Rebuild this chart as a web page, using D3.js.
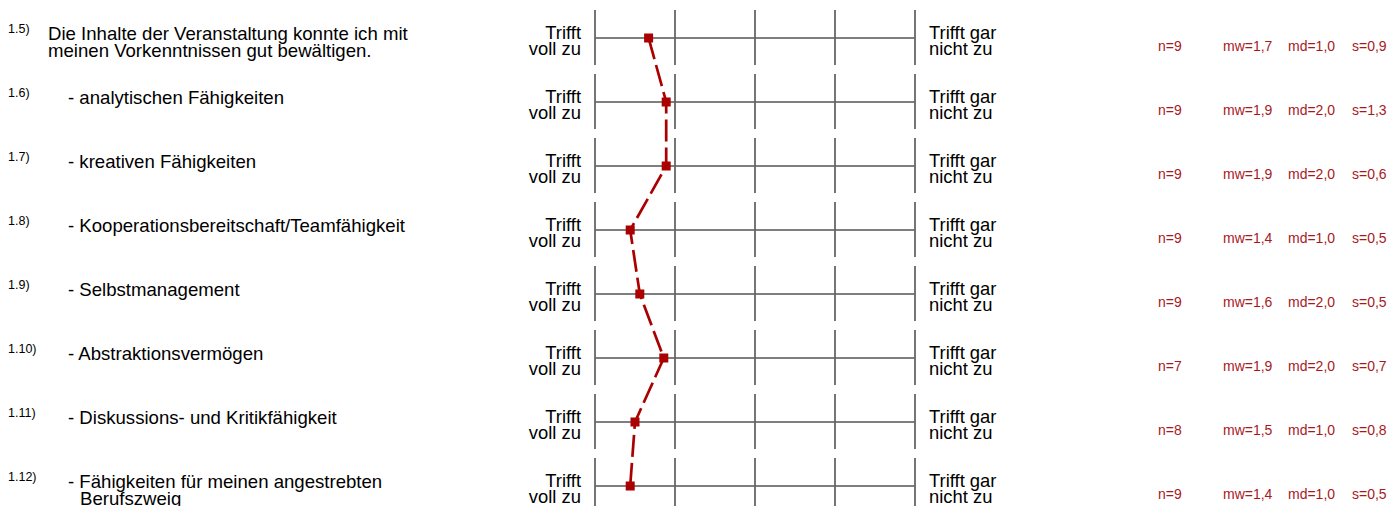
<!DOCTYPE html>
<html>
<head>
<meta charset="utf-8">
<script src="https://cdn.jsdelivr.net/npm/d3@7"></script>
<style>
  body { margin: 0; background: #fff; }
  svg text { font-family: "Liberation Sans", Arial, sans-serif; fill: #000; }
</style>
</head>
<body>
<svg id="chart" width="1394" height="506"></svg>
<script>
// question numbers and texts
var ids = ["1.5)", "1.6)", "1.7)", "1.8)", "1.9)", "1.10)", "1.11)", "1.12)"];
var labels = [
    ["Die Inhalte der Veranstaltung konnte ich mit", "meinen Vorkenntnissen gut bewältigen."],
    ["- analytischen Fähigkeiten"],
    ["- kreativen Fähigkeiten"],
    ["- Kooperationsbereitschaft/Teamfähigkeit"],
    ["- Selbstmanagement"],
    ["- Abstraktionsvermögen"],
    ["- Diskussions- und Kritikfähigkeit"],
    ["- Fähigkeiten für meinen angestrebten", "Berufszweig"]
];
// answers per question
var nValues = [9, 9, 9, 9, 9, 7, 8, 9];
var means = [1.67, 1.89, 1.89, 1.44, 1.56, 1.86, 1.5, 1.44];
var meanText = ["1,7", "1,9", "1,9", "1,4", "1,6", "1,9", "1,5", "1,4"];
var medians = ["1,0", "2,0", "2,0", "1,0", "2,0", "2,0", "1,0", "1,0"];
var stdDevs = ["0,9", "1,3", "0,6", "0,5", "0,5", "0,7", "0,8", "0,5"];
// scale poles
var leftPole = ["Trifft", "voll zu"];
var rightPole = ["Trifft gar", "nicht zu"];
var scaleSteps = [1, 2, 3, 4, 5];

var svg = d3.select('#chart');
var red = "#aa0000";
var statRed = "#a8191c";

var x = d3.scaleLinear().domain([1, 5]).range([595, 915]);
var y = d3.scaleLinear().domain([0, ids.length - 1]).range([38, 486]);

var rows = svg.selectAll('.row')
    .data(ids)
    .enter().append('g')
    .attr('class', 'row')
    .attr('transform', function(d, i) { return 'translate(0,' + y(i) + ')'; });

// question numbers
rows.append('text')
    .attr('x', 8)
    .attr('y', -5.5)
    .style('font-size', '12.5px')
    .text(function(d) { return d; });

// question texts
rows.each(function(d, i) {
    var g = d3.select(this);
    var dash = labels[i][0].charAt(0) == '-';
    var t = g.append('text').style('font-size', '18.6px');
    labels[i].forEach(function(line, j) {
        t.append('tspan')
            .attr('x', dash ? (j == 0 ? 68 : 80) : 48)
            .attr('y', 2 + j * 16.5)
            .text(line);
    });
});

// pole labels
rows.each(function() {
    var g = d3.select(this);
    var lt = g.append('text').style('font-size', '18.4px').attr('text-anchor', 'end');
    leftPole.forEach(function(line, j) {
        lt.append('tspan').attr('x', 581).attr('y', 0.5 + j * 16.8).text(line);
    });
    var rt = g.append('text').style('font-size', '18.4px');
    rightPole.forEach(function(line, j) {
        rt.append('tspan').attr('x', 929).attr('y', 0.5 + j * 16.8).text(line);
    });
});

// scale grid
rows.append('line')
    .attr('x1', x(1)).attr('x2', x(5))
    .attr('y1', 0).attr('y2', 0)
    .attr('stroke', '#555').attr('stroke-width', 1.3);

rows.selectAll('.tick')
    .data(scaleSteps)
    .enter().append('line')
    .attr('class', 'tick')
    .attr('x1', function(d) { return x(d); })
    .attr('x2', function(d) { return x(d); })
    .attr('y1', -28).attr('y2', 27)
    .attr('stroke', '#666').attr('stroke-width', 1.8);

// statistics
var statFont = '14px';
rows.append('text')
    .attr('x', 1158).attr('y', 13)
    .style('font-size', statFont).style('fill', statRed)
    .text(function(d, i) { return 'n=' + nValues[i]; });
rows.append('text')
    .attr('x', 1223).attr('y', 13)
    .style('font-size', statFont).style('fill', statRed)
    .text(function(d, i) { return 'mw=' + meanText[i]; });
rows.append('text')
    .attr('x', 1288).attr('y', 13)
    .style('font-size', statFont).style('fill', statRed)
    .text(function(d, i) { return 'md=' + medians[i]; });
rows.append('text')
    .attr('x', 1352).attr('y', 13)
    .style('font-size', statFont).style('fill', statRed)
    .text(function(d, i) { return 's=' + stdDevs[i]; });

// profile line
var line = d3.line()
    .x(function(d) { return x(d); })
    .y(function(d, i) { return y(i); });

svg.append('path')
    .datum(means)
    .attr('d', line)
    .attr('fill', 'none')
    .attr('stroke', red)
    .attr('stroke-width', 2.7)
    .attr('stroke-dasharray', '22,6');

svg.selectAll('.marker')
    .data(means)
    .enter().append('rect')
    .attr('class', 'marker')
    .attr('x', function(d) { return x(d) - 4.5; })
    .attr('y', function(d, i) { return y(i) - 4.5; })
    .attr('width', 9).attr('height', 9)
    .attr('fill', red);
</script>
</body>
</html>
